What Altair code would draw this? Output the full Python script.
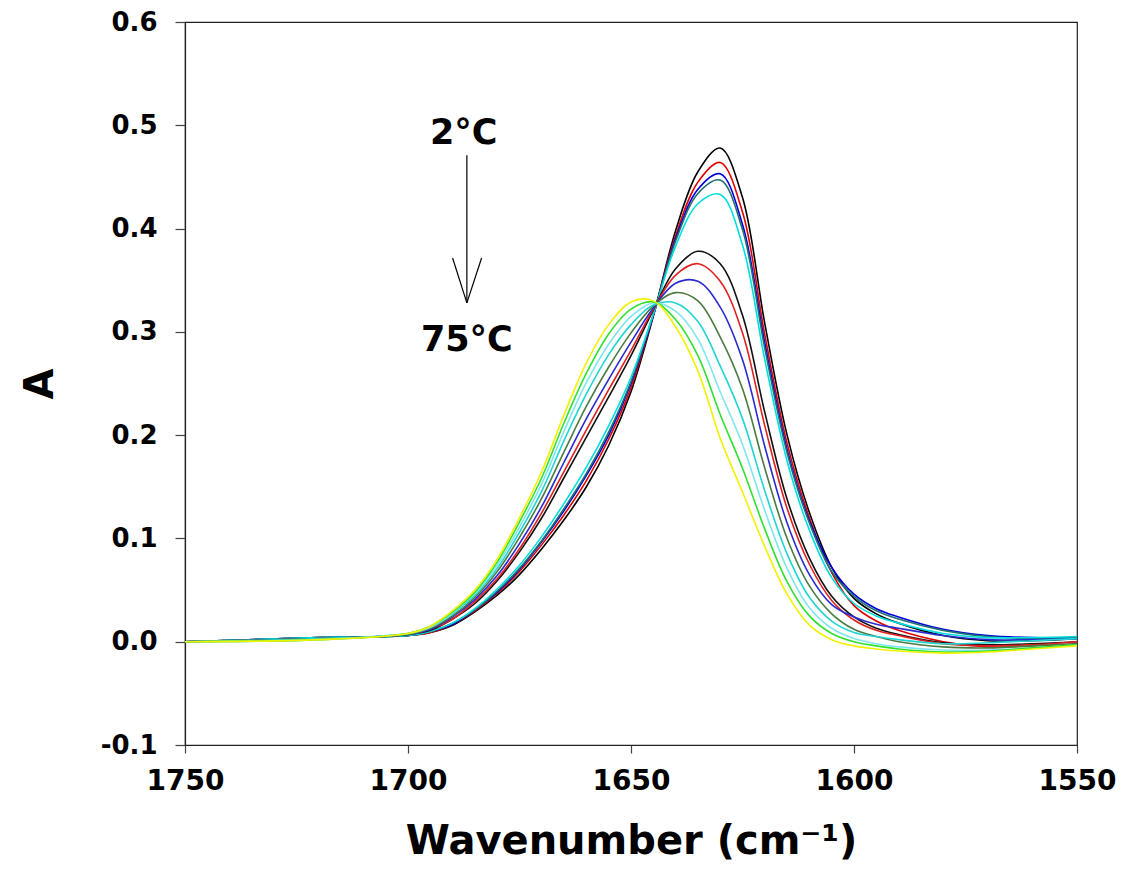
import altair as alt
import pandas as pd

wavenumber = [1750, 1720, 1700, 1695, 1690, 1685, 1680, 1675, 1670, 1665, 1660, 1655, 1650, 1645,
              1640, 1635, 1630, 1625, 1620, 1615, 1610, 1605, 1600, 1595, 1590, 1580, 1570, 1560, 1550]

# absorbance spectra, 2 °C (first) to 75 °C (last)
s01 = [0.000, 0.004, 0.006, 0.009, 0.016, 0.029, 0.045, 0.065, 0.090, 0.118, 0.150, 0.190, 0.242, 0.315,
       0.398, 0.455, 0.478, 0.430, 0.308, 0.200, 0.125, 0.072, 0.042, 0.027, 0.018, 0.006, 0.001, 0.001, 0.003]
s02 = [0.000, 0.004, 0.006, 0.009, 0.017, 0.030, 0.047, 0.068, 0.094, 0.123, 0.156, 0.196, 0.246, 0.316,
       0.393, 0.445, 0.464, 0.416, 0.297, 0.192, 0.120, 0.067, 0.035, 0.020, 0.011, 0.000, -0.005, -0.004, -0.002]
s03 = [0.000, 0.004, 0.006, 0.010, 0.017, 0.031, 0.048, 0.070, 0.097, 0.127, 0.161, 0.200, 0.250, 0.316,
       0.390, 0.438, 0.453, 0.404, 0.289, 0.186, 0.117, 0.072, 0.046, 0.032, 0.024, 0.012, 0.006, 0.004, 0.004]
s04 = [0.000, 0.004, 0.006, 0.010, 0.018, 0.031, 0.049, 0.071, 0.098, 0.129, 0.163, 0.203, 0.252, 0.317,
       0.388, 0.434, 0.447, 0.399, 0.284, 0.183, 0.115, 0.068, 0.044, 0.030, 0.022, 0.011, 0.005, 0.003, 0.004]
s05 = [0.000, 0.004, 0.006, 0.010, 0.018, 0.032, 0.051, 0.074, 0.102, 0.134, 0.169, 0.209, 0.256, 0.317,
       0.383, 0.424, 0.433, 0.384, 0.273, 0.175, 0.108, 0.062, 0.037, 0.025, 0.018, 0.008, 0.004, 0.004, 0.005]
s06 = [0.000, 0.003, 0.007, 0.011, 0.022, 0.037, 0.059, 0.087, 0.120, 0.159, 0.198, 0.237, 0.277, 0.321,
       0.361, 0.378, 0.366, 0.316, 0.222, 0.138, 0.081, 0.044, 0.024, 0.013, 0.007, -0.001, -0.003, -0.002, 0.000]
s07 = [0.000, 0.003, 0.007, 0.012, 0.022, 0.039, 0.061, 0.090, 0.125, 0.165, 0.205, 0.244, 0.282, 0.322,
       0.355, 0.366, 0.349, 0.299, 0.209, 0.129, 0.075, 0.040, 0.021, 0.011, 0.006, -0.002, -0.004, -0.003, 0.000]
s08 = [0.000, 0.003, 0.007, 0.012, 0.024, 0.041, 0.064, 0.095, 0.131, 0.174, 0.216, 0.254, 0.290, 0.323,
       0.347, 0.349, 0.324, 0.273, 0.189, 0.115, 0.065, 0.036, 0.024, 0.017, 0.013, 0.006, 0.002, 0.002, 0.003]
s09 = [0.000, 0.003, 0.007, 0.013, 0.025, 0.043, 0.068, 0.101, 0.139, 0.184, 0.228, 0.266, 0.299, 0.325,
       0.338, 0.330, 0.295, 0.245, 0.168, 0.100, 0.054, 0.027, 0.012, 0.005, 0.000, -0.005, -0.006, -0.004, -0.002]
s10 = [0.000, 0.003, 0.008, 0.014, 0.027, 0.045, 0.071, 0.106, 0.146, 0.195, 0.240, 0.278, 0.307, 0.326,
       0.328, 0.310, 0.267, 0.216, 0.146, 0.085, 0.043, 0.020, 0.009, 0.005, 0.002, -0.002, -0.001, 0.001, 0.003]
s11 = [0.000, 0.002, 0.008, 0.014, 0.028, 0.047, 0.074, 0.111, 0.153, 0.204, 0.251, 0.288, 0.315, 0.328,
       0.320, 0.293, 0.242, 0.191, 0.127, 0.071, 0.033, 0.013, 0.003, -0.002, -0.005, -0.008, -0.008, -0.006, -0.003]
s12 = [0.000, 0.002, 0.008, 0.015, 0.029, 0.048, 0.077, 0.116, 0.159, 0.212, 0.260, 0.298, 0.322, 0.329,
       0.312, 0.277, 0.220, 0.168, 0.109, 0.058, 0.025, 0.008, 0.000, -0.004, -0.007, -0.010, -0.009, -0.006, -0.003]
s13 = [0.000, 0.002, 0.008, 0.015, 0.030, 0.050, 0.080, 0.120, 0.165, 0.220, 0.270, 0.307, 0.329, 0.330,
       0.305, 0.262, 0.197, 0.145, 0.092, 0.046, 0.016, 0.002, -0.004, -0.007, -0.009, -0.011, -0.010, -0.007, -0.004]

series_values = [s01, s02, s03, s04, s05, s06, s07, s08, s09, s10, s11, s12, s13]
series_names = ["T01", "T02", "T03", "T04", "T05", "T06", "T07", "T08", "T09", "T10", "T11", "T12", "T13"]
series_colors = ["#000000", "#e00000", "#0000dd", "#1f6f6f", "#00dede",
                 "#111111", "#e02020", "#2a2ad0", "#4a7a40", "#20d4d4", "#7fe6ee", "#30e030", "#f2f200"]

y_ticks = [-0.1, 0.0, 0.1, 0.2, 0.3, 0.4, 0.5, 0.6]
x_ticks = [1750, 1700, 1650, 1600, 1550]

rows = []
for name, vals in zip(series_names, series_values):
    for w, v in zip(wavenumber, vals):
        rows.append({"wn": w, "A": v, "series": name})
df = pd.DataFrame(rows)

FONT = "DejaVu Sans"

xscale = alt.Scale(domain=[1550, 1750], reverse=True, nice=False, zero=False)
yscale = alt.Scale(domain=[-0.1, 0.6], nice=False, zero=False)

lines = alt.Chart(df).mark_line(strokeWidth=1.6, interpolate="catmull-rom").encode(
    x=alt.X("wn:Q", scale=xscale,
            axis=alt.Axis(values=x_ticks, format="d", title="Wavenumber (cm⁻¹)", grid=False,
                          tickSize=8, labelPadding=14, titlePadding=26, labelFlush=False,
                          labelFontSize=28, titleFontSize=40)),
    y=alt.Y("A:Q", scale=yscale,
            axis=alt.Axis(values=y_ticks, grid=False, title="A",
                          labelExpr="datum.value < 0 ? '-' + format(-datum.value, '.1f') : format(datum.value, '.1f')",
                          tickSize=10, labelPadding=18, titlePadding=40, labelFlush=False,
                          labelFontSize=26, titleFontSize=40)),
    color=alt.Color("series:N", scale=alt.Scale(domain=series_names, range=series_colors), legend=None),
    order=alt.Order("series:N", sort="descending"),
)

# annotation: temperature arrow
ann_text = pd.DataFrame({"wn": [1687.5, 1686.8], "A": [0.4925, 0.292], "label": ["2°C", "75°C"]})
texts = alt.Chart(ann_text).mark_text(font=FONT, fontWeight="bold", fontSize=35, color="black").encode(
    x=alt.X("wn:Q", scale=xscale), y=alt.Y("A:Q", scale=yscale), text="label:N")

arrow = pd.DataFrame({
    "x1": [1686.8, 1690.0, 1683.5],
    "y1": [0.471, 0.3715, 0.3715],
    "x2": [1686.8, 1686.8, 1686.8],
    "y2": [0.328, 0.328, 0.328],
})
arrows = alt.Chart(arrow).mark_rule(color="black", strokeWidth=1.2).encode(
    x=alt.X("x1:Q", scale=xscale), y=alt.Y("y1:Q", scale=yscale),
    x2="x2:Q", y2="y2:Q")

chart = alt.layer(lines, arrows, texts).properties(
    width=892, height=723,
    autosize=alt.AutoSizeParams(type="none"),
    padding={"left": 185, "top": 22, "right": 45, "bottom": 129},
    background="white",
).configure_axis(
    labelFont=FONT, titleFont=FONT, labelFontWeight="bold", titleFontWeight="bold",
    labelColor="black", titleColor="black", domainColor="#222222", tickColor="#444444",
    domainWidth=1.2, tickWidth=1.2,
).configure_view(stroke="#222222", strokeWidth=1.2)

chart.save("out.html", embed_options={"renderer": "svg", "actions": False})
